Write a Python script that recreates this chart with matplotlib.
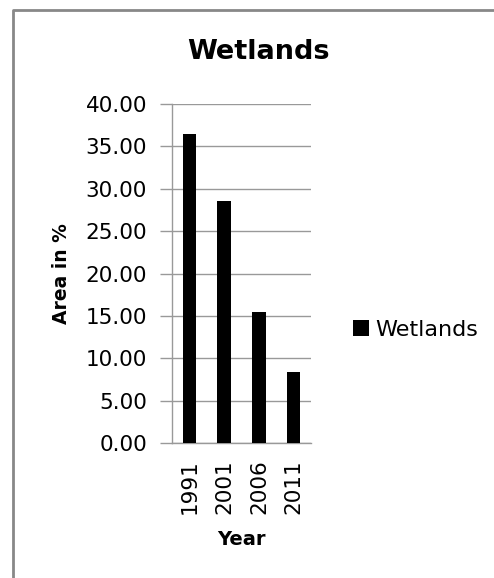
import matplotlib
matplotlib.use("Agg")
import matplotlib.pyplot as plt
from matplotlib.lines import Line2D

years = ["1991", "2001", "2006", "2011"]
wetlands = [36.45, 28.55, 15.45, 8.4]
yticks = [0, 5, 10, 15, 20, 25, 30, 35, 40]

W, H = 494, 578
fig = plt.figure(figsize=(W / 100, H / 100), dpi=100)
plt.rcParams['font.family'] = ['DejaVu Sans']

ax = fig.add_axes([172 / W, 1 - 443 / H, (311 - 172) / W, (443 - 104) / H])
x = list(range(len(years)))
ax.bar(x, wetlands, width=0.39, color="black", label="Wetlands", zorder=3)
ax.set_xlim(-0.5, 3.5)
ax.set_ylim(0, 40)
ax.set_yticks(yticks)
ax.set_yticklabels([f"{v:.2f}" for v in yticks], fontsize=15.5)
ax.set_xticks(x)
ax.set_xticklabels(years, rotation=90, fontsize=15.5)
ax.tick_params(axis="x", length=0, pad=12)
ax.tick_params(axis="y", length=9, width=1, color="#999999", pad=9)
ax.yaxis.grid(True, color="#999999", linewidth=1, zorder=0)
ax.set_axisbelow(True)
for s in ["top", "right"]:
    ax.spines[s].set_visible(False)
for s in ["left", "bottom"]:
    ax.spines[s].set_color("#999999")
    ax.spines[s].set_linewidth(1)

ax.set_ylabel("Area in %", fontsize=13.5, fontweight="bold", labelpad=10)
ax.set_xlabel("Year", fontsize=14, fontweight="bold", labelpad=11)
fig.text(258 / W, 1 - 52 / H, "Wetlands", fontsize=19.5, fontweight="bold",
         ha="center", va="center")

leg = fig.legend(loc="center left", bbox_to_anchor=(353 / W, 1 - 330 / H),
                 frameon=False, fontsize=16, handlelength=0.7, handleheight=0.7,
                 handletextpad=0.3, borderaxespad=0, borderpad=0)

fig.add_artist(Line2D([12.5 / W, 12.5 / W, 1.0], [0.0, 1 - 9.5 / H, 1 - 9.5 / H],
                      transform=fig.transFigure, color="#888888", linewidth=2))

fig.savefig("out.png", dpi=100)
